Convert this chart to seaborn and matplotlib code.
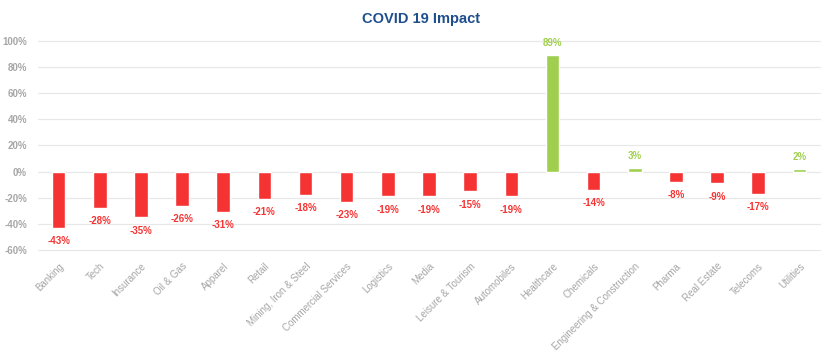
import numpy as np
import matplotlib
matplotlib.use('Agg')
import matplotlib.pyplot as plt
import pandas as pd
import seaborn as sns

# chart data
sectors = ['Banking', 'Tech', 'Insurance', 'Oil & Gas', 'Apparel', 'Retail',
           'Mining, Iron & Steel', 'Commercial Services', 'Logistics', 'Media',
           'Leisure & Tourism', 'Automobiles', 'Healthcare', 'Chemicals',
           'Engineering & Construction', 'Pharma', 'Real Estate', 'Telecoms',
           'Utilities']
impact = [-43, -28, -35, -26, -31, -21, -18, -23, -19, -19,
          -15, -19, 89, -14, 3, -8, -9, -17, 2]
y_ticks = [-60, -40, -20, 0, 20, 40, 60, 80, 100]

RED = '#F53333'
GREEN = '#A0CF4F'

df = pd.DataFrame({'sector': sectors, 'impact': impact})
df['sign'] = np.where(df['impact'] >= 0, 'pos', 'neg')

sns.set_style('white')
plt.rcParams['font.family'] = ['Liberation Sans', 'DejaVu Sans']

fig = plt.figure(figsize=(8.34, 3.54), dpi=100)
ax = fig.add_axes([0.0456, 0.294, 0.9376, 0.590])

sns.barplot(data=df, x='sector', y='impact', hue='sign',
            palette={'neg': RED, 'pos': GREEN}, dodge=False, saturation=1,
            width=0.33, legend=False, ax=ax, zorder=3)

ax.set_ylim(-60, 100)
ax.set_xlim(-0.5, 18.5)
ax.set_yticks(y_ticks)
ax.set_yticklabels([f'{t}%' for t in y_ticks], color='#a6a6a6',
                   fontsize=7, fontweight='bold')
ax.tick_params(axis='y', length=0, pad=8)
ax.tick_params(axis='x', length=0, pad=8)
ax.set_xticks(range(len(sectors)))
ax.set_xticklabels(sectors, rotation=45, ha='right', rotation_mode='anchor',
                   color='#a6a6a6', fontsize=7)
for t in y_ticks:
    ax.axhline(t, color='#e8e8e8', lw=0.9, zorder=0, clip_on=False)
for s in ax.spines.values():
    s.set_visible(False)
ax.set_xlabel('')
ax.set_ylabel('')

for i, v in enumerate(impact):
    if v >= 0:
        ax.annotate(f'{v}%', (i, v), xytext=(0, 5), textcoords='offset points',
                    ha='center', va='bottom', color=GREEN, fontsize=7,
                    fontweight='bold')
    else:
        ax.annotate(f'{v}%', (i, v), xytext=(0, -6), textcoords='offset points',
                    ha='center', va='top', color=RED, fontsize=7,
                    fontweight='bold')

fig.text(0.505, 0.945, 'COVID 19 Impact', ha='center', va='center',
         color='#1F4E8C', fontsize=10.5, fontweight='bold')

fig.savefig('out.png', dpi=100)
